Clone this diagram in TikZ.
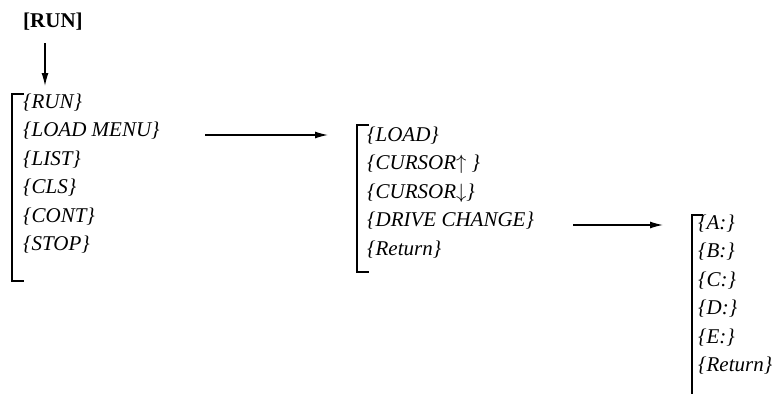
\documentclass[tikz,border=0pt]{standalone}
\usepackage{fontspec}
\setmainfont{Liberation Serif}
\usetikzlibrary{arrows.meta}
\begin{document}
\begin{tikzpicture}[x=1pt,y=-1pt,
  item/.style={anchor=base west,inner sep=0pt,font=\fontsize{21}{25}\selectfont\itshape},
  brk/.style={line width=1.5pt},
  conn/.style={line width=1.3pt,-{Latex[length=13pt,width=7pt]}}]
\useasboundingbox (0,0) rectangle (779,394);
\node[anchor=base west,inner sep=0pt,font=\fontsize{21}{25}\selectfont\bfseries] (run) at (23,27) {[RUN]};
\coordinate (r1) at (45,43);
\coordinate (r2) at (45,86);
\draw[conn] (r1) -- (r2);
% column 1
\draw[brk] (24,94) -- (12,94) -- (12,281) -- (24,281);
\node[item] (a1) at (23,108) {\{RUN\}};
\node[item] (a2) at (23,136.5) {\{LOAD MENU\}};
\node[item] (a3) at (23,165) {\{LIST\}};
\node[item] (a4) at (23,193.5) {\{CLS\}};
\node[item] (a5) at (23,222) {\{CONT\}};
\node[item] (a6) at (23,250.5) {\{STOP\}};
% arrow 1
\coordinate (p1) at (205,135);
\coordinate (p2) at (328,135);
\draw[conn] (p1) -- (p2);
% column 2
\draw[brk] (369,125) -- (357,125) -- (357,272) -- (369,272);
\node[item] (b1) at (367,141) {\{LOAD\}};
\node[item] (b2) at (367,169.5) {\{CURSOR$\uparrow$ \}};
\node[item] (b3) at (367,198) {\{CURSOR$\downarrow$\}};
\node[item] (b4) at (367,226.5) {\{DRIVE CHANGE\}};
\node[item] (b5) at (367,255) {\{Return\}};
% arrow 2
\coordinate (q1) at (573,225);
\coordinate (q2) at (663,225);
\draw[conn] (q1) -- (q2);
% column 3
\draw[brk] (703,215) -- (692,215) -- (692,394);
\node[item] (c1) at (698,229) {\{A:\}};
\node[item] (c2) at (698,257.5) {\{B:\}};
\node[item] (c3) at (698,286) {\{C:\}};
\node[item] (c4) at (698,314.5) {\{D:\}};
\node[item] (c5) at (698,343) {\{E:\}};
\node[item] (c6) at (698,371.5) {\{Return\}};
\end{tikzpicture}
\end{document}
